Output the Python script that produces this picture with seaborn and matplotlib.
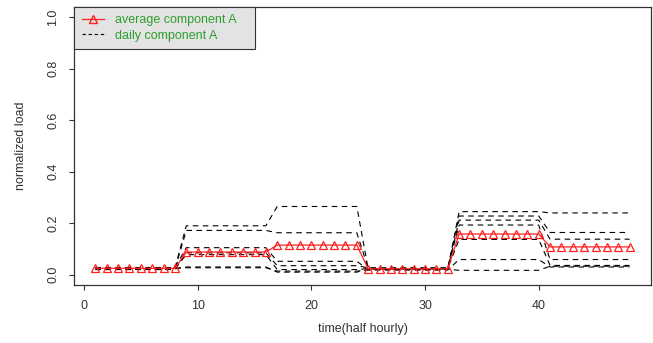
import numpy as np
import pandas as pd
import matplotlib
matplotlib.use("Agg")
import matplotlib.pyplot as plt
from matplotlib.lines import Line2D
import seaborn as sns

# ---- data ----
time = list(range(1, 49))

day1 = [0.025]*8 + [0.190]*8 + [0.265]*8 + [0.022]*8 + [0.245]*8 + [0.240]*8
day2 = [0.022]*8 + [0.172]*8 + [0.163]*8 + [0.025]*8 + [0.228]*8 + [0.164]*8
day3 = [0.028]*8 + [0.105]*8 + [0.052]*8 + [0.020]*8 + [0.212]*8 + [0.138]*8
day4 = [0.020]*8 + [0.085]*8 + [0.035]*8 + [0.027]*8 + [0.193]*8 + [0.059]*8
day5 = [0.024]*8 + [0.078]*8 + [0.020]*8 + [0.024]*8 + [0.137]*8 + [0.036]*8
day6 = [0.026]*8 + [0.027]*8 + [0.014]*8 + [0.018]*8 + [0.059]*8 + [0.030]*8
day7 = [0.023]*8 + [0.030]*8 + [0.010]*8 + [0.021]*8 + [0.017]*8 + [0.033]*8

average = [0.025]*8 + [0.088]*8 + [0.115]*8 + [0.023]*8 + [0.158]*8 + [0.108]*8

x_ticks = [0, 10, 20, 30, 40]
y_ticks = [0.0, 0.2, 0.4, 0.6, 0.8, 1.0]
x_label = "time(half hourly)"
y_label = "normalized load"
legend_labels = ["average component A", "daily component A"]

# ---- build frames ----
days = [day1, day2, day3, day4, day5, day6, day7]
daily_df = pd.DataFrame({
    "t": time * len(days),
    "load": sum(days, []),
    "day": sum([[i] * len(time) for i in range(len(days))], []),
})
avg_df = pd.DataFrame({"t": time, "load": average})

plt.rcParams['font.family'] = ['Liberation Sans', 'DejaVu Sans']

fig = plt.figure(figsize=(6.53, 3.43), dpi=100)
ax = fig.add_axes([74/653, 1 - 285/343, (651-74)/653, (285-7)/343])

sns.lineplot(data=daily_df, x="t", y="load", units="day", estimator=None,
             color="black", linestyle=(0, (5, 4)), linewidth=0.8, ax=ax,
             legend=False)
sns.lineplot(data=avg_df, x="t", y="load", color="#ff2020", linewidth=0.9,
             marker="^", markersize=5.5, markerfacecolor="none",
             markeredgecolor="#ff2020", markeredgewidth=0.9, ax=ax, legend=False)

ax.set_xlim(1 - 47*0.04, 48 + 47*0.04)
ax.set_ylim(-0.04, 1.04)
ax.set_xticks(x_ticks)
ax.set_yticks(y_ticks)
ax.set_xticklabels([str(v) for v in x_ticks])
ax.set_yticklabels([f"{v:.1f}" for v in y_ticks], rotation=90, va="center")
ax.tick_params(axis="both", direction="out", length=3.6, width=0.8,
               colors="#333333", labelsize=9, labelcolor="#333333")
ax.tick_params(axis="y", pad=7)
ax.tick_params(axis="x", pad=7)
for s in ax.spines.values():
    s.set_color("#333333")
    s.set_linewidth(0.9)

ax.set_xlabel(x_label, fontsize=9, color="#333333")
ax.set_ylabel(y_label, fontsize=9, color="#333333")
ax.xaxis.set_label_coords(0.5, -0.135)
ax.yaxis.set_label_coords(-0.081, 0.5)

handles = [
    Line2D([], [], color="#ff2020", linewidth=0.9, marker="^", markersize=5.5,
           markerfacecolor="none", markeredgecolor="#ff2020"),
    Line2D([], [], color="black", linewidth=0.8, linestyle=(0, (3, 2.5))),
]
leg = ax.legend(handles, legend_labels, loc="upper left", borderaxespad=0,
                bbox_to_anchor=(0, 0, (255-74)/577, 1), mode="expand",
                fontsize=9, frameon=True, fancybox=False, framealpha=1,
                facecolor="#e3e3e3", edgecolor="#333333", handlelength=1.8,
                handletextpad=0.9, labelspacing=0.25, borderpad=0.6)
leg.get_frame().set_linewidth(0.8)
for t in leg.get_texts():
    t.set_color("#2e9e2e")

fig.savefig("out.png", dpi=100)
